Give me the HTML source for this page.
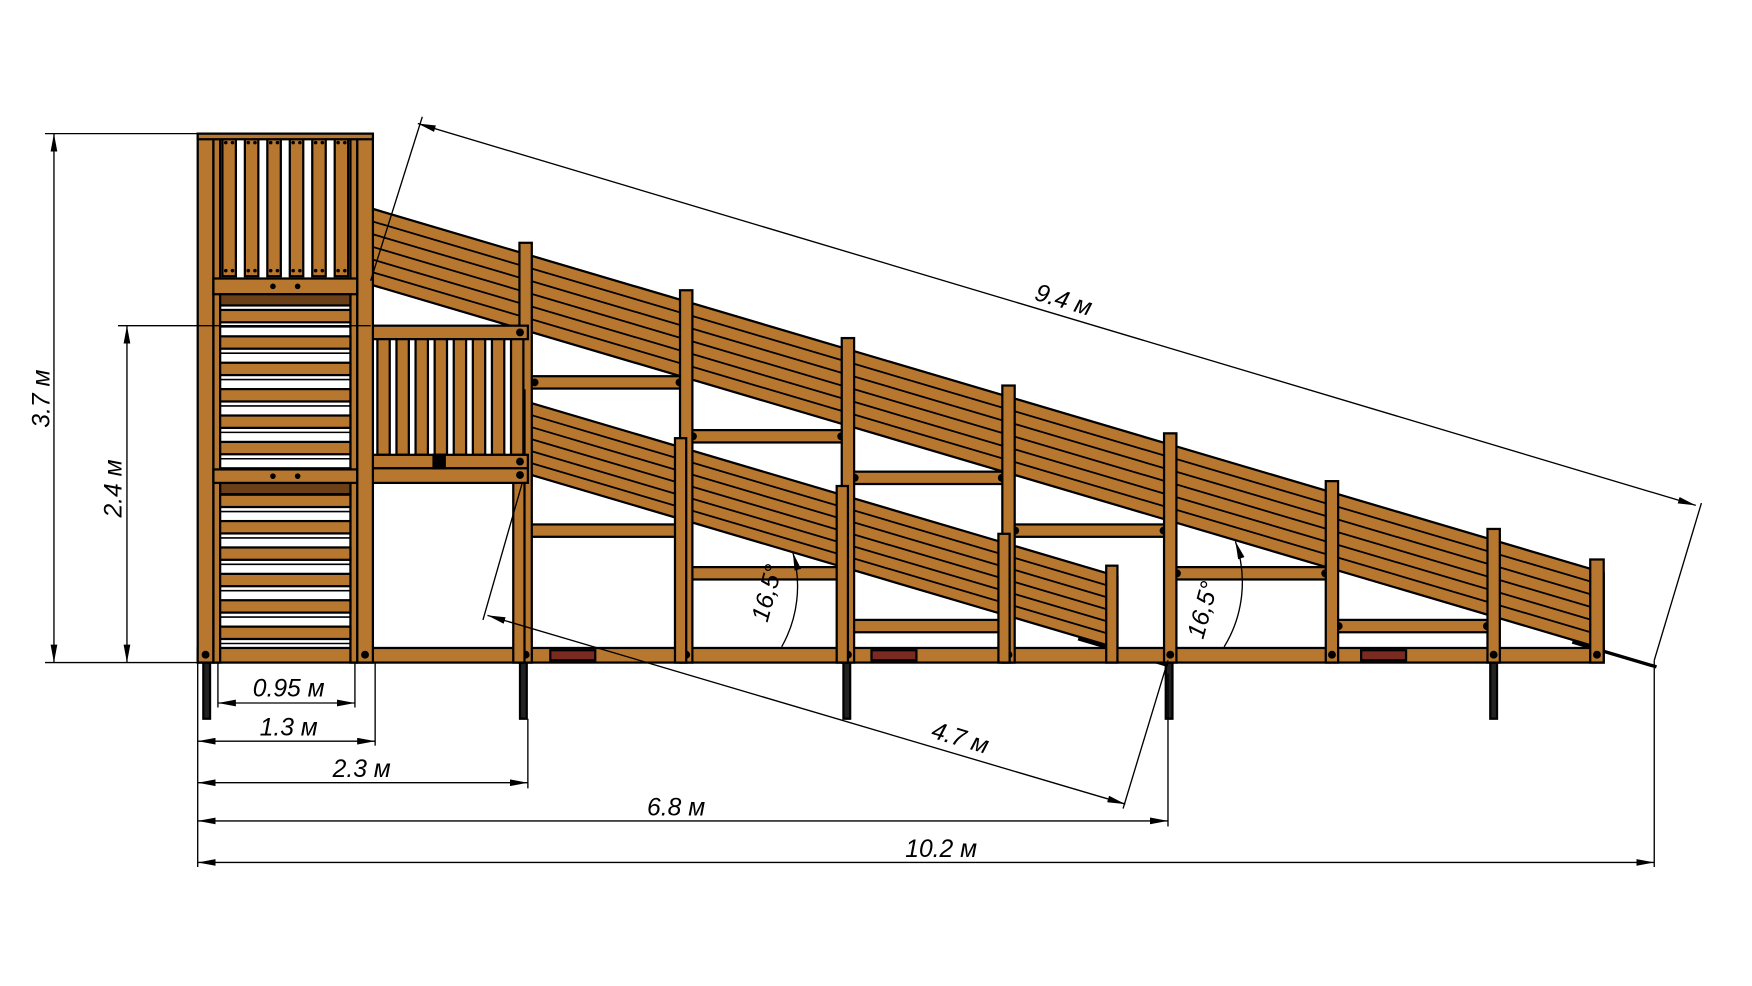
<!DOCTYPE html>
<html><head><meta charset="utf-8"><style>
html,body{margin:0;padding:0;background:#fff;}
svg{display:block;}
text{font-family:"Liberation Sans",sans-serif;font-style:italic;font-size:22px;fill:#000;}
</style></head><body>
<svg id="s" width="1752" height="986" viewBox="0 0 1560 878" xmlns="http://www.w3.org/2000/svg">
<defs>
<marker id="a" viewBox="0 0 16 6" refX="16" refY="3" markerWidth="16" markerHeight="6" markerUnits="userSpaceOnUse" orient="auto-start-reverse"><path d="M0,0 L16,3 L0,6 z" fill="#000"/></marker>
</defs>
<g id="wood" stroke="#000" stroke-width="2" fill="#b8772f"></g>
<g id="dims" stroke="#000" stroke-width="1.2" fill="none">
<line x1="40" y1="119" x2="182" y2="119"/>
<line x1="40" y1="590" x2="176" y2="590"/>
<line x1="105" y1="290" x2="330" y2="290"/>
<line x1="48" y1="119" x2="48" y2="590" marker-start="url(#a)" marker-end="url(#a)"/>
<line x1="113" y1="290" x2="113" y2="590" marker-start="url(#a)" marker-end="url(#a)"/>
<line x1="176" y1="590" x2="176" y2="772"/>
<line x1="194" y1="590" x2="194" y2="630"/>
<line x1="316" y1="590" x2="316" y2="630"/>
<line x1="334" y1="590" x2="334" y2="664"/>
<line x1="470" y1="640" x2="470" y2="702"/>
<line x1="1040" y1="600" x2="1040" y2="736"/>
<line x1="1473" y1="588" x2="1473" y2="772"/>
<line x1="194" y1="626" x2="316" y2="626" marker-start="url(#a)" marker-end="url(#a)"/>
<line x1="176" y1="660" x2="334" y2="660" marker-start="url(#a)" marker-end="url(#a)"/>
<line x1="176" y1="697" x2="470" y2="697" marker-start="url(#a)" marker-end="url(#a)"/>
<line x1="176" y1="731" x2="1040" y2="731" marker-start="url(#a)" marker-end="url(#a)"/>
<line x1="176" y1="768" x2="1473" y2="768" marker-start="url(#a)" marker-end="url(#a)"/>
<line x1="330" y1="250" x2="376" y2="104"/>
<line x1="1473" y1="588" x2="1515" y2="448"/>
<line x1="372" y1="110" x2="1510" y2="450" marker-start="url(#a)" marker-end="url(#a)"/>
<line x1="465" y1="430" x2="430" y2="552"/>
<line x1="1040" y1="588" x2="1000" y2="720"/>
<line x1="434" y1="548" x2="1002" y2="716" marker-start="url(#a)" marker-end="url(#a)"/>
<path d="M696,576 A110,110 0 0 0 706,492" marker-end="url(#a)"/>
<path d="M1090,576 A110,110 0 0 0 1100,482" marker-end="url(#a)"/>
</g>
<text transform="translate(44,355) rotate(-90)" text-anchor="middle">3.7 м</text>
<text transform="translate(108,435) rotate(-90)" text-anchor="middle">2.4 м</text>
<text x="257" y="620" text-anchor="middle">0.95 м</text>
<text x="257" y="655" text-anchor="middle">1.3 м</text>
<text x="322" y="692" text-anchor="middle">2.3 м</text>
<text x="602" y="726" text-anchor="middle">6.8 м</text>
<text x="838" y="763" text-anchor="middle">10.2 м</text>
<text transform="translate(945,274) rotate(16.5)" text-anchor="middle">9.4 м</text>
<text transform="translate(853,664) rotate(16.5)" text-anchor="middle">4.7 м</text>
<text transform="translate(690,530) rotate(-75)" text-anchor="middle">16,5°</text>
<text transform="translate(1078,545) rotate(-75)" text-anchor="middle">16,5°</text>
<script>
(function(){
var g=document.getElementById('wood'),NS='http://www.w3.org/2000/svg';
function el(t,a){var e=document.createElementNS(NS,t);for(var k in a)e.setAttribute(k,a[k]);g.appendChild(e);return e;}
function R(x,y,w,h,f){return el('rect',{x:x,y:y,width:w,height:h,fill:f||'#b8772f'});}
function C(x,y,r){el('circle',{cx:x,cy:y,r:r||3.5,fill:'#000',stroke:'none'});}
var k=0.2956;
function yt(x){return 186+k*(x-332);}
function yt2(x){return 358+k*(x-470);}
[184,466,754,1041,1330].forEach(function(x){R(x-3,590,6,50,'#222');});
var x0=332,x1=1428;
el('polygon',{points:x0+','+yt(x0)+' '+x1+','+yt(x1)+' '+x1+','+(yt(x1)+68)+' '+x0+','+(yt(x0)+68)});
for(var i=1;i<6;i++){var d=i*11.3;el('line',{x1:x0,y1:yt(x0)+d,x2:x1,y2:yt(x1)+d,'stroke-width':1.6});}
el('line',{x1:1400,y1:yt(1400)+70,x2:1475,y2:yt(1475)+70,'stroke-width':3});
var l0=470,l1=995;
el('polygon',{points:l0+','+yt2(l0)+' '+l1+','+yt2(l1)+' '+l1+','+(yt2(l1)+64)+' '+l0+','+(yt2(l0)+64)});
for(i=1;i<6;i++){d=i*10.7;el('line',{x1:l0,y1:yt2(l0)+d,x2:l1,y2:yt2(l1)+d,'stroke-width':1.6});}
el('line',{x1:960,y1:yt2(960)+66,x2:1040,y2:yt2(1040)+66,'stroke-width':3});
[[470,611,335],[611,755,383],[755,898,420],[898,1042,467],[1042,1186,505],[1186,1330,552],[462,611,467],[604,755,505],[748,898,552]].forEach(function(b){R(b[0],b[2],b[1]-b[0],11);C(b[0]+6,b[2]+5.5);C(b[1]-6,b[2]+5.5);});
R(176,577,1252,13);
[468,611,755,898,1042,1186,1330,1422].forEach(function(x){var w=(x==1422)?12:11;R(x-w/2,yt(x)-10,w,590-yt(x)+10);C(x,583);});
[462,606,750,894,990].forEach(function(x){R(x-5,yt2(x)-8,10,590-yt2(x)+8);});
R(320,290,150,12);C(328,296);C(463,296);
for(i=0;i<8;i++){R(336+i*17,302,11,103);}
R(320,405,150,12);R(320,417,150,13);
R(386,405,10,12,'#000');C(463,411);C(463,423);
R(176,119,14,471);R(318,119,14,471);R(190,119,6,471);R(312,119,6,471);
for(i=0;i<6;i++){var bx=198+i*20;R(bx,122,12,124);C(bx+3,127,1.6);C(bx+9,127,1.6);C(bx+3,241,1.6);C(bx+9,241,1.6);}
R(176,119,156,5);
R(190,248,128,14);C(243,255,2.5);C(265,255,2.5);
R(196,262,116,10,'#6b3f18');
for(var y=276;y<577;y+=23.5){R(196,y,116,11);el('line',{x1:196,y1:y+15,x2:312,y2:y+15,'stroke-width':1.4});}
R(196,430,116,10,'#6b3f18');
R(190,418,128,12);C(243,424,2.5);C(265,424,2.5);
C(183,583);C(325,583);
[[490,577],[776,577],[1212,577]].forEach(function(p){R(p[0],p[1]+2,40,9,'#7a2a20');});
})();
</script>
</svg>
</body></html>
